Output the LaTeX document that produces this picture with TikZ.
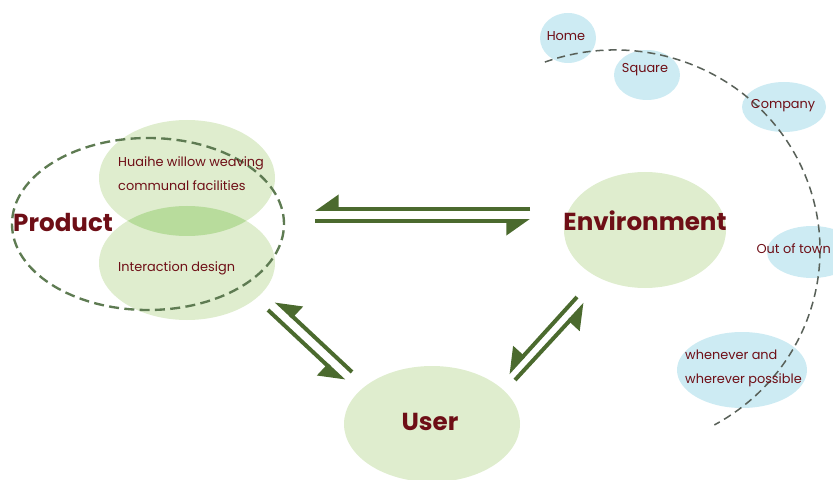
\documentclass[tikz,border=0pt]{standalone}
\usepackage{fontspec}
\setmainfont{Poppins}
\usetikzlibrary{arrows.meta, positioning, shapes.geometric, calc}
\definecolor{textred}{HTML}{6E0E16}
\definecolor{leafgreen}{HTML}{DFEDCE}
\definecolor{lensgreen}{HTML}{B8DC9C}
\definecolor{skyblue}{HTML}{CDEBF3}
\definecolor{arrowgreen}{HTML}{4B6A2E}
\definecolor{dashgreen}{HTML}{5E7B52}
\definecolor{dashgrey}{HTML}{596159}

\begin{document}
\begin{tikzpicture}[x=0.03cm, y=-0.03cm,
  every node/.style={text=textred},
  blob/.style={ellipse, fill=leafgreen, inner sep=0pt},
  bubble/.style={ellipse, fill=skyblue, inner sep=0pt},
  bigword/.style={font=\bfseries\fontsize{21}{24}\selectfont, inner sep=0pt},
  smallword/.style={font=\fontsize{11}{20.5}\selectfont, align=left, inner sep=0pt},
  harpoon/.style={draw=arrowgreen, line width=3.4pt,
    -{Triangle[right, length=0.62cm, width=0.84cm]}}]
\def\px{0.03cm}
\clip (0,0) rectangle (833,480);

% Product blobs with their overlap
\node[blob, minimum width=176*\px, minimum height=116*\px] (prodtop) at (187,178) {};
\node[blob, minimum width=176*\px, minimum height=114*\px] (prodbot) at (187,263) {};
\begin{scope}
  \clip (prodtop.center) ellipse [x radius=88, y radius=58];
  \fill[lensgreen] (prodbot.center) ellipse [x radius=88, y radius=57];
\end{scope}
\node[draw=dashgreen, ellipse, line width=2pt, dash pattern=on 0.3cm off 0.16cm,
  minimum width=272*\px, minimum height=172*\px] (prodring) at (148,224) {};

\node[bigword, anchor=west] (product) at (13,222) {Product};
\node[smallword, anchor=west] (weave) at (118,174) {Huaihe willow weaving\\communal facilities};
\node[smallword, anchor=west] (interact) at (118,268) {Interaction design};

% Environment and User
\node[blob, minimum width=162*\px, minimum height=116*\px] (envblob) at (645,230) {};
\node[bigword] (env) at (645,221) {Environment};
\node[blob, minimum width=176*\px, minimum height=116*\px] (userblob) at (432,424) {};
\node[bigword] (user) at (430,422) {User};

% Harpoon pairs
\coordinate (pe-a) at (530,209); \coordinate (pe-b) at (315,209);
\coordinate (pe-c) at (315,221); \coordinate (pe-d) at (530,221);
\draw[harpoon] (pe-a) -- (pe-b);
\draw[harpoon] (pe-c) -- (pe-d);

\coordinate (pu-a) at (268,310); \coordinate (pu-b) at (344,381);
\coordinate (pu-c) at (352,372); \coordinate (pu-d) at (276,301);
\draw[harpoon] (pu-a) -- (pu-b);
\draw[harpoon] (pu-c) -- (pu-d);

\coordinate (eu-a) at (577,297); \coordinate (eu-b) at (508,373);
\coordinate (eu-c) at (515,380); \coordinate (eu-d) at (585,304);
\draw[harpoon] (eu-a) -- (eu-b);
\draw[harpoon] (eu-c) -- (eu-d);

% Places
\node[bubble, minimum width=56*\px, minimum height=50*\px] (home) at (568,38) {};
\node[bubble, minimum width=66*\px, minimum height=50*\px] (square) at (647,75) {};
\node[bubble, minimum width=84*\px, minimum height=50*\px] (company) at (784,107) {};
\node[bubble, minimum width=90*\px, minimum height=52*\px] (outtown) at (812,252) {};
\node[bubble, minimum width=130*\px, minimum height=76*\px] (anywhere) at (742,370) {};

\draw[dashgrey, line width=1.3pt, dash pattern=on 0.24cm off 0.15cm]
  (615,250) ++(-110:205 and 200) arc[start angle=-110, end angle=61, x radius=205, y radius=200];

\node[smallword] (homet) at (566,36) {Home};
\node[smallword] (squaret) at (645,70) {Square};
\node[smallword] (companyt) at (783,106) {Company};
\node[smallword, anchor=east] (outtownt) at (831,249) {Out of town};
\node[smallword, anchor=west] (anywheret) at (685,368) {whenever and\\wherever possible};

\end{tikzpicture}
\end{document}
